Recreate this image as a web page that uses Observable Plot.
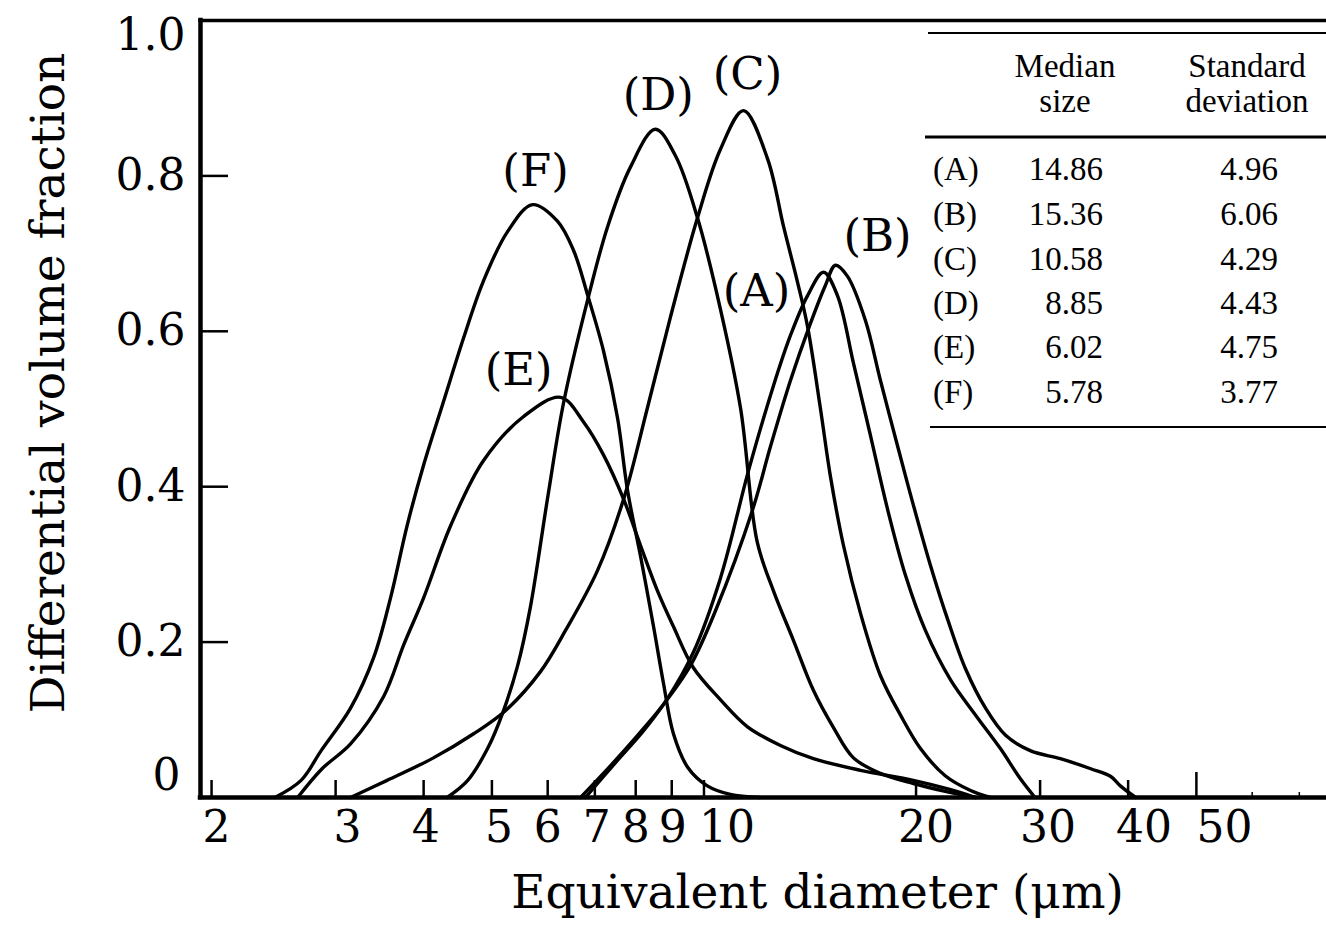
<!DOCTYPE html>
<html>
<head>
<meta charset="utf-8">
<script src="https://cdn.jsdelivr.net/npm/d3@7"></script>
<script src="https://cdn.jsdelivr.net/npm/@observablehq/plot@0.6"></script>
<style>
  html, body { margin: 0; padding: 0; background: #fff; }
  #chart { position: relative; width: 1326px; height: 939px; overflow: hidden; }
</style>
</head>
<body>
<div id="chart"></div>
<script>
// ---------------- data ----------------
const sampleIds = ["A", "B", "C", "D", "E", "F"];

const diameterA = [6.79, 7.49, 8.21, 8.87, 9.66, 10.55, 11.57, 12.55, 13.27, 14.03, 14.78, 15.47, 16.30, 17.23, 18.21, 19.32, 20.62, 22.4, 24.3, 26.35, 28.13, 29.5];
const fractionA = [0, 0.045, 0.086, 0.127, 0.187, 0.282, 0.421, 0.530, 0.595, 0.646, 0.676, 0.646, 0.559, 0.466, 0.372, 0.286, 0.215, 0.151, 0.106, 0.063, 0.024, 0];

const diameterB = [6.68, 7.37, 8.05, 8.73, 9.57, 10.38, 11.72, 12.43, 13.27, 14.12, 14.87, 15.37, 15.98, 16.95, 17.80, 18.82, 19.83, 20.96, 22.2, 23.5, 25.1, 26.8, 29.1, 32.06, 35.4, 37.8, 39.0, 41.0];
const fractionB = [0, 0.041, 0.080, 0.118, 0.170, 0.240, 0.370, 0.452, 0.537, 0.607, 0.659, 0.685, 0.671, 0.614, 0.537, 0.453, 0.376, 0.299, 0.228, 0.166, 0.115, 0.080, 0.060, 0.050, 0.037, 0.027, 0.015, 0];

const diameterC = [3.15, 3.55, 4.13, 4.71, 5.23, 5.86, 6.36, 7.06, 7.69, 8.31, 8.96, 9.79, 10.55, 11.38, 12.31, 12.97, 13.57, 14.03, 14.63, 15.12, 15.78, 16.68, 17.80, 19.01, 20.29, 22.0, 23.9, 25.5];
const fractionC = [0, 0.022, 0.051, 0.082, 0.112, 0.162, 0.215, 0.292, 0.384, 0.501, 0.618, 0.746, 0.834, 0.884, 0.822, 0.735, 0.664, 0.606, 0.501, 0.413, 0.324, 0.237, 0.157, 0.106, 0.063, 0.028, 0.009, 0];

const diameterD = [4.32, 4.62, 4.93, 5.18, 5.44, 5.67, 6.00, 6.32, 6.84, 7.30, 7.86, 8.53, 9.11, 9.79, 10.55, 11.27, 11.9, 12.55, 13.4, 14.3, 15.27, 16.3, 17.8, 19.83, 22.0, 24.3];
const fractionD = [0, 0.022, 0.063, 0.109, 0.170, 0.245, 0.386, 0.508, 0.641, 0.735, 0.811, 0.860, 0.826, 0.746, 0.629, 0.501, 0.329, 0.266, 0.202, 0.138, 0.090, 0.051, 0.031, 0.018, 0.008, 0];

const diameterE = [2.65, 2.87, 3.15, 3.51, 3.75, 4.00, 4.37, 4.86, 5.54, 6.26, 6.75, 7.20, 7.69, 8.13, 8.59, 9.05, 9.66, 10.55, 11.53, 12.84, 14.3, 16.68, 19.83, 22.4, 24.3];
const fractionE = [0, 0.037, 0.069, 0.130, 0.197, 0.257, 0.350, 0.433, 0.490, 0.515, 0.483, 0.441, 0.384, 0.324, 0.266, 0.220, 0.167, 0.126, 0.091, 0.067, 0.050, 0.035, 0.022, 0.010, 0];

const diameterF = [2.46, 2.68, 2.86, 3.15, 3.40, 3.59, 3.79, 4.00, 4.27, 4.56, 4.86, 5.26, 5.71, 6.19, 6.53, 6.84, 7.20, 7.54, 7.79, 8.13, 8.48, 8.76, 9.05, 9.48, 10.11, 10.9, 12.0];
const fractionF = [0, 0.022, 0.060, 0.115, 0.181, 0.257, 0.350, 0.428, 0.510, 0.592, 0.664, 0.728, 0.763, 0.742, 0.704, 0.646, 0.575, 0.488, 0.395, 0.310, 0.220, 0.147, 0.082, 0.039, 0.015, 0.004, 0];

const medianSize = [14.86, 15.36, 10.58, 8.85, 6.02, 5.78];
const standardDeviation = [4.96, 6.06, 4.29, 4.43, 4.75, 3.77];
const tableHeaders = [["Median", "size"], ["Standard", "deviation"]];

const xTickValues = [2, 3, 4, 5, 6, 7, 8, 9, 10, 20, 30, 40, 50];
const xMinorTicks = [60, 70];
const yTickValues = [0, 0.2, 0.4, 0.6, 0.8, 1.0];
const xTitle = "Equivalent diameter (\u03bcm)";
const yTitle = "Differential volume fraction";

// ---------------- build table for the library ----------------
const diameters = {A: diameterA, B: diameterB, C: diameterC, D: diameterD, E: diameterE, F: diameterF};
const fractions = {A: fractionA, B: fractionB, C: fractionC, D: fractionD, E: fractionE, F: fractionF};
const rows = sampleIds.flatMap(id => diameters[id].map((x, i) => ({id, x, y: fractions[id][i]})));
const peaks = sampleIds.map(id => {
  const f = fractions[id];
  const i = f.indexOf(Math.max(...f));
  return {id, x: diameters[id][i], y: f[i]};
});

// ---------------- styling / layout ----------------
const W = 1326, H = 939;
const mLeft = 200, mTop = 20, mBottom = 142, mRight = 0;
const xDomain = [1.929, 76.5];
const pxPerDecade = (W - mLeft - mRight) / Math.log10(xDomain[1] / xDomain[0]);
const plotH = H - mTop - mBottom;
const serif = "'DejaVu Serif', 'Liberation Serif', serif";
const labelNudge = {A: [-67, 19], B: [42, -29], C: [4, -36], D: [3, -34], E: [-42, -27], F: [3, -33]};
const xLabelNudge = {2: 5, 3: 12, 4: 2, 5: 7, 6: 0, 7: 2, 8: 0, 9: 1, 10: 23, 20: 10, 30: 8, 40: 16, 50: 28};

const marks = [
  // frame lines
  Plot.ruleY([0], {stroke: "#000", strokeWidth: 4.5, strokeLinecap: "square"}),
  Plot.ruleY([1], {stroke: "#000", strokeWidth: 3.5, strokeLinecap: "square"}),
  Plot.ruleX([xDomain[0]], {stroke: "#000", strokeWidth: 4.5, strokeLinecap: "square"}),
  // inward y ticks
  Plot.ruleY(yTickValues.filter(v => v > 0 && v < 1), {
    x1: xDomain[0], x2: xDomain[0] * Math.pow(10, 28 / pxPerDecade), stroke: "#000", strokeWidth: 2.5
  }),
  // inward x ticks
  Plot.ruleX(xTickValues.filter(v => v !== 50), {y1: 0, y2: 17 / plotH, stroke: "#000", strokeWidth: 2.5}),
  Plot.ruleX([50], {y1: 0, y2: 25 / plotH, stroke: "#000", strokeWidth: 2.5}),
  Plot.ruleX(xMinorTicks, {y1: 0, y2: 5 / plotH, stroke: "#000", strokeWidth: 1.5}),
  // curves
  Plot.line(rows, {x: "x", y: "y", z: "id", curve: "catmull-rom", stroke: "#000", strokeWidth: 3.4}),
  // y tick labels
  Plot.text(yTickValues.filter(v => v > 0 && v < 1), {
    y: d => d, text: d => d.toFixed(1), frameAnchor: "left", textAnchor: "end", dx: -15, fontSize: 44
  }),
  Plot.text([1], {y: d => d, text: d => d.toFixed(1), frameAnchor: "left", textAnchor: "end", dx: -15, dy: 15, fontSize: 44}),
  Plot.text([0], {y: d => d, text: d => String(d), frameAnchor: "left", textAnchor: "end", dx: -20, dy: -22, fontSize: 44}),
  // x tick labels
  ...xTickValues.map(v => Plot.text([v], {
    x: d => d, text: d => String(d), frameAnchor: "bottom", dy: 44, dx: xLabelNudge[v] ?? 0, fontSize: 44
  })),
  // axis titles
  Plot.text([xTitle], {text: d => d, frameAnchor: "bottom", textAnchor: "middle", dx: 54, dy: 110, fontSize: 47}),
  Plot.text([yTitle], {text: d => d, frameAnchor: "left", textAnchor: "middle", rotate: -90, dx: -152, dy: -26, fontSize: 47}),
  // curve labels
  ...peaks.map(p => Plot.text([p], {
    x: "x", y: "y", text: d => `(${d.id})`, dx: labelNudge[p.id][0], dy: labelNudge[p.id][1], fontSize: 45
  }))
];

const svg = Plot.plot({
  width: W, height: H,
  marginLeft: mLeft, marginRight: mRight, marginTop: mTop, marginBottom: mBottom,
  style: {fontFamily: serif, background: "#fff", color: "#000"},
  x: {type: "log", domain: xDomain, axis: null},
  y: {domain: [0, 1], axis: null},
  marks
});

// ---------------- inset table ----------------
const tbl = d3.select(svg).append("g")
  .attr("font-family", "'Liberation Serif', 'DejaVu Serif', serif")
  .attr("font-size", 33).attr("fill", "#000").attr("text-anchor", "start");
[[33, 928, 2], [137, 925, 3], [427, 930, 2]].forEach(([y, x0, w]) => {
  tbl.append("line").attr("x1", x0).attr("x2", W).attr("y1", y).attr("y2", y)
    .attr("stroke", "#000").attr("stroke-width", w);
});
const headX = [1065, 1247];
tableHeaders.forEach((lines, j) => {
  lines.forEach((t, k) => {
    tbl.append("text").attr("x", headX[j]).attr("y", 77 + k * 35).attr("text-anchor", "middle").text(t);
  });
});
const rowBase = [180, 225, 270, 314, 358, 403];
sampleIds.forEach((id, i) => {
  tbl.append("text").attr("x", 933).attr("y", rowBase[i]).attr("text-anchor", "start").text(`(${id})`);
  tbl.append("text").attr("x", 1103).attr("y", rowBase[i]).attr("text-anchor", "end").text(medianSize[i].toFixed(2));
  tbl.append("text").attr("x", 1278).attr("y", rowBase[i]).attr("text-anchor", "end").text(standardDeviation[i].toFixed(2));
});

document.getElementById("chart").appendChild(svg);
</script>
</body>
</html>
